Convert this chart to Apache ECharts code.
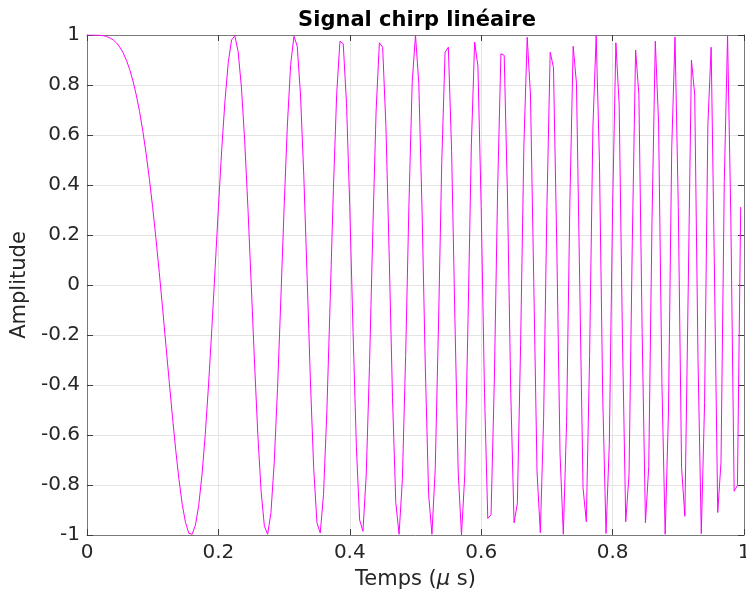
<!DOCTYPE html>
<html>
<head>
<meta charset="utf-8">
<script src="https://cdn.jsdelivr.net/npm/echarts@6/dist/echarts.min.js"></script>
<style>
html,body{margin:0;padding:0;background:#fff;overflow:hidden;width:746px;height:596px;}
#chart{width:746px;height:596px;position:absolute;left:0;top:0;}
</style>
</head>
<body>
<div id="chart"></div>
<script>
// Sampling period of the chirp (μs)
const sampleStep = 0.005;
// Amplitude, one value per sample
const amplitude = [
 1.000, 1.000, 1.000, 1.000, 0.999, 0.997, 0.994, 0.988, 0.980, 0.968,
 0.951, 0.929, 0.899, 0.862, 0.816, 0.760, 0.694, 0.615, 0.525, 0.423,
 0.309, 0.184, 0.050, -0.091, -0.237, -0.383, -0.525, -0.659, -0.778, -0.878,
 -0.951, -0.993, -0.997, -0.961, -0.882, -0.760, -0.598, -0.400, -0.175, 0.066,
 0.309, 0.539, 0.737, 0.890, 0.980, 0.997, 0.934, 0.792, 0.578, 0.306,
 0.000, -0.312, -0.598, -0.825, -0.965, -0.997, -0.910, -0.709, -0.414, -0.060,
 0.309, 0.640, 0.882, 0.995, 0.955, 0.760, 0.437, 0.035, -0.380, -0.731,
 -0.951, -0.992, -0.838, -0.512, -0.075, 0.383, 0.762, 0.975, 0.965, 0.727,
 0.309, -0.191, -0.647, -0.940, -0.985, -0.760, -0.321, 0.215, 0.694, 0.969,
 0.951, 0.635, 0.113, -0.451, -0.870, -0.997, -0.779, -0.282, 0.321, 0.811,
 1.000, 0.807, 0.297, -0.336, -0.838, -0.997, -0.738, -0.160, 0.493, 0.931,
 0.951, 0.533, -0.138, -0.748, -1.000, -0.760, -0.138, 0.560, 0.972, 0.875,
 0.309, -0.429, -0.934, -0.919, -0.380, 0.383, 0.925, 0.919, 0.356, -0.429,
 -0.951, -0.875, -0.237, 0.560, 0.991, 0.760, 0.013, -0.748, -0.991, -0.533,
 0.309, 0.931, 0.870, 0.160, -0.675, -0.997, -0.546, 0.336, 0.955, 0.807,
 0.000, -0.811, -0.947, -0.282, 0.628, 0.997, 0.493, -0.451, -0.994, -0.635,
 0.309, 0.969, 0.721, -0.215, -0.947, -0.760, 0.175, 0.940, 0.762, -0.191,
 -0.951, -0.727, 0.261, 0.975, 0.647, -0.383, -0.997, -0.512, 0.546, 0.992,
 0.309, -0.731, -0.925, -0.035, 0.900, 0.760, -0.297, -0.995, -0.471, 0.640,
 0.951, 0.060, -0.910, -0.709, 0.414, 0.997, 0.261, -0.825, -0.802, 0.312
];
const xTickStep = 0.2;
const yTickStep = 0.2;

const FONT = 'DejaVu Sans';
const points = amplitude.map((v, i) => [+(i * sampleStep).toFixed(3), v]);

const axisLineStyle = { color: '#7a7a7a', width: 1 };
const tickStyle = { color: '#3c3c3c', width: 1 };
const gridStyle = { color: '#e4e4e4', width: 1 };
const labelFmt = v => {
  const r = Math.round(v * 10) / 10;
  return r === 0 ? '0' : String(r);
};

const chart = echarts.init(document.getElementById('chart'), null, { renderer: 'canvas', width: 746, height: 596 });
chart.setOption({
  animation: false,
  backgroundColor: '#ffffff',
  title: {
    text: 'Signal chirp linéaire',
    left: 412,
    top: 5,
    textAlign: 'center',
    textStyle: { fontFamily: FONT, fontSize: 21, fontWeight: 'bold', color: '#000000' }
  },
  grid: { left: 87, right: 2, top: 35, bottom: 61, containLabel: false, outerBoundsMode: 'none' },
  xAxis: [
    {
      type: 'value', min: 0, max: 1, interval: xTickStep,
      name: 'Temps ({i|μ} s)',
      nameLocation: 'middle',
      nameGap: 34,
      nameTextStyle: {
        fontFamily: FONT, fontSize: 21, color: '#262626',
        rich: { i: { fontFamily: FONT, fontSize: 21, fontStyle: 'italic', color: '#262626' } }
      },
      axisLine: { show: true, onZero: false, lineStyle: axisLineStyle },
      axisTick: { show: true, inside: true, length: 6, lineStyle: tickStyle },
      axisLabel: { color: '#262626', fontFamily: FONT, fontSize: 20, margin: 8, formatter: labelFmt },
      splitLine: { show: true, lineStyle: gridStyle }
    },
    {
      type: 'value', min: 0, max: 1, interval: xTickStep, position: 'top',
      axisLine: { show: true, onZero: false, lineStyle: axisLineStyle },
      axisTick: { show: true, inside: true, length: 6, lineStyle: tickStyle },
      axisLabel: { show: false },
      splitLine: { show: false }
    }
  ],
  yAxis: [
    {
      type: 'value', min: -1, max: 1, interval: yTickStep,
      name: 'Amplitude',
      nameLocation: 'middle',
      nameGap: 51,
      nameTextStyle: { fontFamily: FONT, fontSize: 21, color: '#262626' },
      axisLine: { show: true, onZero: false, lineStyle: axisLineStyle },
      axisTick: { show: true, inside: true, length: 6, lineStyle: tickStyle },
      axisLabel: { color: '#262626', fontFamily: FONT, fontSize: 20, margin: 7, formatter: labelFmt },
      splitLine: { show: true, lineStyle: gridStyle }
    },
    {
      type: 'value', min: -1, max: 1, interval: yTickStep, position: 'right',
      axisLine: { show: true, onZero: false, lineStyle: axisLineStyle },
      axisTick: { show: true, inside: true, length: 6, lineStyle: tickStyle },
      axisLabel: { show: false },
      splitLine: { show: false }
    }
  ],
  series: [{
    type: 'line',
    data: points,
    xAxisIndex: 0,
    yAxisIndex: 0,
    showSymbol: false,
    symbol: 'none',
    smooth: false,
    clip: true,
    lineStyle: { color: '#ff00ff', width: 1 },
    z: 3
  }]
});
</script>
</body>
</html>
